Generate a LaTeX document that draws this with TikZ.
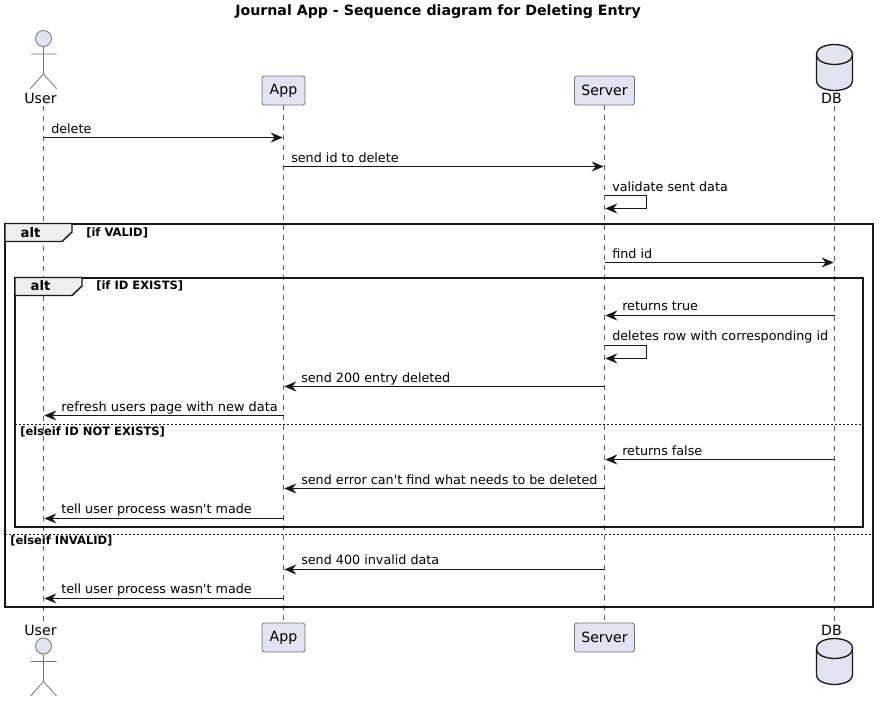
\documentclass[tikz,border=0pt]{standalone}
\usepackage{fontspec}
\newfontfamily\djv{DejaVu Sans}
\usetikzlibrary{arrows.meta}
\definecolor{partfill}{HTML}{E2E2F0}
\definecolor{ink}{HTML}{181818}
\definecolor{tabfill}{HTML}{EEEEEE}
\tikzset{
  x=0.75pt,y=-0.75pt,
  lifeline/.style={draw=ink!70,line width=0.5pt,dash pattern=on 3.75pt off 3.75pt},
  msgline/.style={draw=ink,line width=0.75pt,-{Stealth[length=9pt,width=7.5pt,inset=3pt]},shorten >=0.6pt},
  msgtext/.style={anchor=base west,inner sep=0pt,font=\djv\fontsize{9.56}{12}\selectfont,text=black},
  partbox/.style={draw=ink!60,fill=partfill,line width=0.6pt,rounded corners=1.8pt,minimum height=21.75pt,inner sep=0pt,font=\djv\fontsize{10.6}{12}\selectfont,text=black},
  parttext/.style={inner sep=0pt,font=\djv\fontsize{10.6}{12}\selectfont,text=black},
  actorline/.style={draw=ink!60,line width=0.6pt},
  dbshape/.style={draw=ink,fill=partfill,line width=1pt},
  framebox/.style={draw=ink,line width=1.5pt},
  tabshape/.style={draw=ink,fill=tabfill,line width=1.1pt},
  tabtext/.style={inner sep=0pt,font=\djv\fontsize{9.9}{12}\selectfont\bfseries,text=black},
  condtext/.style={anchor=base west,inner sep=0pt,font=\djv\fontsize{8.65}{10}\selectfont\bfseries,text=black},
  sepline/.style={draw=ink,line width=0.6pt,dash pattern=on 1.5pt off 1.5pt},
}
\newcommand{\actorfig}[2]{% head centre x, head centre y
  \draw[actorline,fill=partfill] (#1,#2) circle[radius=8];
  \draw[actorline] (#1,#2+8) -- (#1,#2+35.5)
    (#1-13,#2+15.5) -- (#1+13,#2+15.5)
    (#1-13,#2+50) -- (#1,#2+35.5) -- (#1+13,#2+50);
}
\newcommand{\dbfig}[2]{% centre x, top y
  \draw[dbshape] (#1-18,#2+10) .. controls (#1-18,#2) and (#1,#2) .. (#1,#2)
    .. controls (#1,#2) and (#1+18,#2) .. (#1+18,#2+10)
    -- (#1+18,#2+36) .. controls (#1+18,#2+46) and (#1,#2+46) .. (#1,#2+46)
    .. controls (#1,#2+46) and (#1-18,#2+46) .. (#1-18,#2+36) -- cycle;
  \draw[dbshape,fill=none] (#1-18,#2+10) .. controls (#1-18,#2+20) and (#1,#2+20) .. (#1,#2+20)
    .. controls (#1,#2+20) and (#1+18,#2+20) .. (#1+18,#2+10);
}
\begin{document}
\begin{tikzpicture}
\useasboundingbox (0,0) rectangle (879,703);
\fill[white] (0,0) rectangle (879,703);

\node[inner sep=0pt,font=\djv\fontsize{10.63}{12}\selectfont\bfseries] (title) at (438,12) {Journal App - Sequence diagram for Deleting Entry};

% lifeline ends
\coordinate (utop) at (43.5,106); \coordinate (ubot) at (43.5,622);
\coordinate (dtop) at (834.5,106); \coordinate (dbot) at (834.5,622);

% participants
\node[partbox,minimum width=32.25pt] (apptop) at (283.5,90.5) {App};
\node[partbox,minimum width=45pt] (srvtop) at (604.5,90.5) {Server};
\node[partbox,minimum width=32.25pt] (appbot) at (283.5,637.5) {App};
\node[partbox,minimum width=45pt] (srvbot) at (604.5,637.5) {Server};

% lifelines
\draw[lifeline] (utop) -- (ubot);
\draw[lifeline] (apptop) -- (appbot);
\draw[lifeline] (srvtop) -- (srvbot);
\draw[lifeline] (dtop) -- (dbot);

% actors
\actorfig{43.5}{38.5}
\actorfig{43.5}{646}
\node[parttext] (usertop) at (40.5,98) {User};
\node[parttext] (userbot) at (40.5,630) {User};

% databases
\dbfig{834.5}{44.5}
\dbfig{834.5}{638.5}
\node[parttext] (dbtop) at (831.5,98) {DB};
\node[parttext] (dbbot) at (831.5,630) {DB};

% outer frame
\draw[framebox] (5,223.5) rectangle (873,606.5);
\draw[tabshape] (5,223.5) -- (72,223.5) -- (72,232) -- (62,241.5) -- (5,241.5) -- cycle;
\node[tabtext] (alt1) at (30.5,233) {alt};
\node[condtext] (c1) at (86,236) {[if VALID]};
% inner frame
\draw[framebox] (15,277.5) rectangle (863,526.5);
\draw[tabshape] (15,277.5) -- (82,277.5) -- (82,286) -- (72,295.5) -- (15,295.5) -- cycle;
\node[tabtext] (alt2) at (40.5,286) {alt};
\node[condtext] (c2) at (96,289) {[if ID EXISTS]};
% separators
\draw[sepline] (15,424.5) -- (863,424.5);
\node[condtext] (c3) at (20,435.5) {[elseif ID NOT EXISTS]};
\draw[sepline] (5,534.5) -- (873,534.5);
\node[condtext] (c4) at (10,544.5) {[elseif INVALID]};

% messages
\draw[msgline] (utop |- 0,137.5) -- (apptop |- 0,137.5);
\node[msgtext] (m1) at (51,133) {delete};
\draw[msgline] (apptop |- 0,166.5) -- (srvtop |- 0,166.5);
\node[msgtext] (m2) at (291,162) {send id to delete};
\draw[msgline] (srvtop |- 0,195.5) -- ++(42,0) -- ++(0,13) -- (srvtop |- 0,208.5);
\node[msgtext] (m3) at (612,191) {validate sent data};
\draw[msgline] (srvtop |- 0,262.5) -- (dtop |- 0,262.5);
\node[msgtext] (m4) at (612,258) {find id};
\draw[msgline] (dtop |- 0,315.5) -- (srvtop |- 0,315.5);
\node[msgtext] (m5) at (622,310) {returns true};
\draw[msgline] (srvtop |- 0,345.5) -- ++(42,0) -- ++(0,13) -- (srvtop |- 0,358.5);
\node[msgtext] (m6) at (612,340) {deletes row with corresponding id};
\draw[msgline] (srvtop |- 0,386.5) -- (apptop |- 0,386.5);
\node[msgtext] (m7) at (301,382) {send 200 entry deleted};
\draw[msgline] (apptop |- 0,415.5) -- (utop |- 0,415.5);
\node[msgtext,font=\djv\fontsize{9.7}{12}\selectfont] (m8) at (61,411) {refresh users page with new data};
\draw[msgline] (dtop |- 0,459.5) -- (srvtop |- 0,459.5);
\node[msgtext] (m9) at (622,455) {returns false};
\draw[msgline] (srvtop |- 0,488.5) -- (apptop |- 0,488.5);
\node[msgtext] (m10) at (301,484) {send error can't find what needs to be deleted};
\draw[msgline] (apptop |- 0,518.5) -- (utop |- 0,518.5);
\node[msgtext] (m11) at (61,513) {tell user process wasn't made};
\draw[msgline] (srvtop |- 0,569.5) -- (apptop |- 0,569.5);
\node[msgtext] (m12) at (301,564) {send 400 invalid data};
\draw[msgline] (apptop |- 0,598.5) -- (utop |- 0,598.5);
\node[msgtext] (m13) at (61,593) {tell user process wasn't made};
\end{tikzpicture}
\end{document}
